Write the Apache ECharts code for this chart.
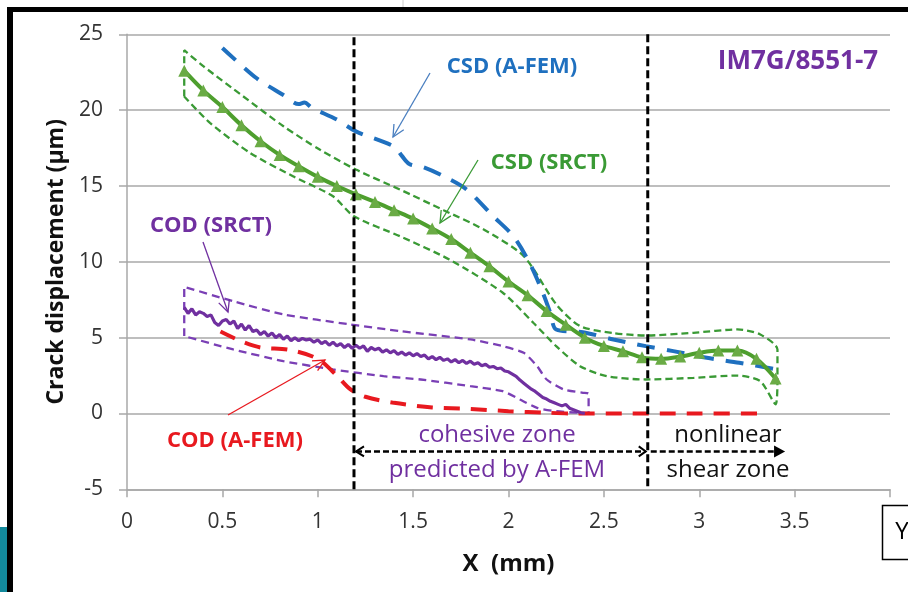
<!DOCTYPE html>
<html><head><meta charset="utf-8">
<script src="https://cdn.jsdelivr.net/npm/echarts@6/dist/echarts.min.js"></script>
<style>html,body{margin:0;padding:0;background:#fff;}#c{width:908px;height:592px;}</style>
</head><body><div id="c"></div>
<script>
// ---------- DATA ----------
const xTicks = [0, 0.5, 1, 1.5, 2, 2.5, 3, 3.5, 4];
const yTicks = [-5, 0, 5, 10, 15, 20, 25];

// CSD (SRCT) measured, with triangles
const csdSrctX = [0.3,0.4,0.5,0.6,0.7,0.8,0.9,1.0,1.1,1.2,1.3,1.4,1.5,1.6,1.7,1.8,1.9,2.0,2.1,2.2,2.3,2.4,2.5,2.6,2.7,2.8,2.9,3.0,3.1,3.2,3.3,3.4];
const csdSrctY = [22.6,21.3,20.2,19.0,17.95,17.05,16.3,15.6,15.0,14.45,13.95,13.4,12.85,12.2,11.5,10.6,9.7,8.7,7.8,6.75,5.85,5.0,4.45,4.1,3.7,3.6,3.75,4.0,4.15,4.15,3.6,2.3];

// CSD (SRCT) scatter envelope (closed outline)
const csdEnvX = [0.3,0.3,0.4,0.61,0.82,1.01,1.2,1.43,1.66,1.87,2.08,2.25,2.375,2.55,2.72,2.97,3.2,3.32,3.41,3.41,3.4,3.32,3.2,2.97,2.72,2.515,2.375,2.25,2.13,1.97,1.69,1.43,1.19,1.08,0.87,0.645,0.435,0.3];
const csdEnvY = [20.9,23.95,22.9,20.9,18.94,17.4,16.08,14.77,13.4,12.13,10.37,7.2,5.76,5.3,5.14,5.32,5.54,5.21,4.22,2.5,0.6,2.13,2.5,2.35,2.24,2.46,3.12,4.44,5.98,7.96,10.15,11.69,13.0,14.32,15.64,17.18,19.16,20.9];

// CSD (A-FEM)
const csdFemX = [0.5,0.68,0.82,0.9,0.93,0.97,1.1,1.2,1.4,1.44,1.48,1.55,1.66,1.78,1.92,2.025,2.11,2.18,2.22,2.25,2.39,2.55,2.72,2.864,3.04,3.21,3.41];
const csdFemY = [24.1,22.1,21.0,20.4,20.5,20.15,19.38,18.6,17.6,17.0,16.45,16.25,15.64,14.77,13.0,11.69,9.93,7.96,6.6,5.54,5.36,4.88,4.44,4.11,3.67,3.34,2.9];

// COD (A-FEM)
const codFemX = [0.49,0.6,0.7,0.85,1.0,1.1,1.17,1.25,1.4,1.6,1.8,2.0,2.2,2.35,2.6,2.8,3.0,3.32];
const codFemY = [5.4,4.75,4.35,4.2,3.6,2.5,1.6,1.1,0.7,0.4,0.3,0.15,0.05,0,0,0,0,0];

// COD (SRCT) measured (noisy)
const codSrctX = [0.30,0.32,0.34,0.36,0.38,0.40,0.42,0.44,0.46,0.48,0.50,0.52,0.54,0.56,0.58,0.60,0.62,0.64,0.66,0.68,0.70,0.72,0.74,0.76,0.78,0.80,0.82,0.84,0.86,0.88,0.90,0.92,0.94,0.96,0.98,1.00,1.02,1.04,1.06,1.08,1.10,1.12,1.14,1.16,1.18,1.20,1.22,1.24,1.26,1.28,1.30,1.32,1.34,1.36,1.38,1.40,1.42,1.44,1.46,1.48,1.50,1.52,1.54,1.56,1.58,1.60,1.62,1.64,1.66,1.68,1.70,1.72,1.74,1.76,1.78,1.80,1.82,1.84,1.86,1.88,1.90,1.92,1.94,1.96,1.98,2.00,2.02,2.04,2.06,2.08,2.10,2.12,2.14,2.16,2.18,2.20,2.22,2.24,2.26,2.28,2.30,2.32,2.34,2.36,2.38,2.40];
const codSrctY = [7.0,6.6,6.9,6.5,6.7,6.6,6.4,6.5,6.0,5.8,6.1,6.2,5.9,6.1,5.6,5.9,5.5,5.8,5.4,5.5,5.2,5.4,5.1,5.3,5.0,5.2,4.9,5.1,4.8,5.0,4.8,4.95,4.85,4.9,4.7,4.85,4.6,4.75,4.5,4.7,4.45,4.6,4.35,4.55,4.3,4.5,4.3,4.45,4.1,4.35,4.2,4.3,4.05,4.2,4.0,4.15,3.9,4.05,3.85,4.0,3.8,3.95,3.75,3.85,3.6,3.75,3.55,3.7,3.5,3.6,3.4,3.55,3.35,3.5,3.3,3.45,3.25,3.35,3.15,3.25,3.05,3.1,2.95,3.0,2.8,2.75,2.6,2.45,2.2,2.0,1.8,1.6,1.45,1.25,1.05,0.95,0.8,0.7,0.6,0.5,0.6,0.35,0.25,0.15,0.05,0.0];

// COD (SRCT) scatter envelope (closed outline)
const codEnvX = [0.3,0.3,0.557,0.82,1.17,1.43,1.8,1.97,2.08,2.15,2.2,2.29,2.39,2.42,2.42,2.39,2.25,2.15,2.06,1.97,1.8,1.54,1.345,1.08,0.82,0.557,0.3];
const codEnvY = [5.1,8.35,7.4,6.53,5.87,5.43,4.88,4.44,4.0,3.12,2.24,1.58,1.36,1.3,0.04,0.04,0.15,0.37,0.92,1.47,1.8,2.24,2.46,2.9,3.45,4.22,5.1];

// zone boundaries (mm) and top of boundary lines
const zoneBounds = [1.19, 2.73];
const zoneTop = [24.8, 25];
const zoneArrowY = -2.5;
const shearEnd = 3.45;

// ---------- CHART ----------
const zip = (a, b) => a.map((v, i) => [v, b[i]]);
const chart = echarts.init(document.getElementById('c'), null, {renderer: 'canvas'});
const FONT = '"Open Sans", sans-serif';
const GRID = {left: 127, right: 18, top: 34.3, bottom: 102.7};

const series = [
  {type: 'line', data: zip(csdEnvX, csdEnvY), symbol: 'none', smooth: 0.25,
   lineStyle: {color: '#3a9a35', width: 2.3, type: [7, 4]}, z: 2},
  {type: 'line', data: zip(codEnvX, codEnvY), symbol: 'none', smooth: 0.2,
   lineStyle: {color: '#7a3fb5', width: 2.3, type: [8, 5]}, z: 2},
  {type: 'line', data: zip(codFemX, codFemY), symbol: 'none', smooth: 0.3,
   lineStyle: {color: '#e8191f', width: 4, type: [16, 11]}, z: 3},
  {type: 'line', data: zip(codSrctX, codSrctY), symbol: 'none',
   lineStyle: {color: '#7030a0', width: 3.2}, z: 4},
  {type: 'line', data: zip(csdFemX, csdFemY), symbol: 'none', smooth: 0.3,
   lineStyle: {color: '#1f70bf', width: 4, type: [18, 12]}, z: 3},
  {type: 'line', data: zip(csdSrctX, csdSrctY), smooth: 0.3, symbol: 'triangle', symbolSize: 12,
   itemStyle: {color: '#6aab45'}, lineStyle: {color: '#4e9f2e', width: 4}, z: 5},
];
zoneBounds.forEach((b, i) => {
  series.push({type: 'line', data: [[b, zoneTop[i]], [b, -5]], symbol: 'none',
    lineStyle: {color: '#000', width: 3, type: [8, 4]}, z: 6});
});

chart.setOption({
  animation: false,
  grid: GRID,
  xAxis: {type: 'value', min: 0, max: 4, interval: 0.5,
    name: 'X  (mm)', nameLocation: 'middle', nameGap: 63,
    nameTextStyle: {fontFamily: FONT, fontWeight: 'bold', fontSize: 24, color: '#111'},
    axisLine: {show: true, onZero: false, lineStyle: {color: '#a8a8a8', width: 1.5}},
    axisTick: {show: true, length: 8, lineStyle: {color: '#a8a8a8', width: 1.5}},
    splitLine: {show: false},
    axisLabel: {fontFamily: FONT, fontSize: 21, color: '#333', margin: 22,
      formatter: v => (v === 4 ? '' : String(v))}},
  yAxis: {type: 'value', min: -5, max: 25, interval: 5,
    name: 'Crack displacement (μm)', nameLocation: 'middle', nameGap: 58,
    nameTextStyle: {fontFamily: FONT, fontWeight: 'bold', fontSize: 23, color: '#111'},
    axisLine: {show: true, lineStyle: {color: '#a8a8a8', width: 1.5}},
    axisTick: {show: true, length: 8, lineStyle: {color: '#a8a8a8', width: 1.5}},
    splitLine: {show: true, lineStyle: {color: '#a8a8a8', width: 1.5}},
    axisLabel: {fontFamily: FONT, fontSize: 21, color: '#333', margin: 24}},
  series: series
});

// ---------- ANNOTATIONS ----------
const P = (x, y) => chart.convertToPixel({gridIndex: 0}, [x, y]);
function openArrow(x1, y1, x2, y2, color, w) {
  const a = Math.atan2(y2 - y1, x2 - x1), L = 13, s = 0.45;
  return [
    {type: 'line', shape: {x1, y1, x2, y2}, style: {stroke: color, lineWidth: w}, z: 10},
    {type: 'polyline', shape: {points: [
      [x2 - L * Math.cos(a - s), y2 - L * Math.sin(a - s)], [x2, y2],
      [x2 - L * Math.cos(a + s), y2 - L * Math.sin(a + s)]]},
     style: {stroke: color, lineWidth: w, fill: null}, z: 10}
  ];
}
function txt(t, x, y, color, size, bold, z) {
  return {type: 'text', z: z || 10, style: {text: t, x, y, fill: color, textAlign: 'center', textVerticalAlign: 'middle',
    font: (bold ? 'bold ' : '') + size + 'px ' + FONT}};
}
const pL = P(zoneBounds[0], zoneArrowY), pM = P(zoneBounds[1], zoneArrowY), pR = P(shearEnd, zoneArrowY);
const g = [];
// frame of the original slide
g.push({type: 'rect', shape: {x: 7, y: 7, width: 6, height: 585}, style: {fill: '#000'}, z: 20});
g.push({type: 'rect', shape: {x: 7, y: 7, width: 901, height: 5}, style: {fill: '#000'}, z: 20});
g.push({type: 'rect', shape: {x: 0, y: 527, width: 7, height: 65}, style: {fill: '#138a9c'}, z: 20});
g.push({type: 'line', shape: {x1: 403, y1: 0, x2: 403, y2: 7}, style: {stroke: '#ccc', lineWidth: 1}, z: 20});
g.push({type: 'rect', shape: {x: 882.5, y: 505.5, width: 30, height: 54}, style: {fill: '#fff', stroke: '#000', lineWidth: 1.5}, z: 20});
g.push(txt('Y', 902, 532, '#000', 24, false, 21));
// zone arrows
g.push({type: 'line', shape: {x1: pL[0] + 2, y1: pL[1], x2: pM[0] - 2, y2: pM[1]}, style: {stroke: '#000', lineWidth: 2.5, lineDash: [6, 3]}, z: 9});
g.push({type: 'polyline', shape: {points: [[pL[0] + 10, pL[1] - 5], [pL[0] + 2, pL[1]], [pL[0] + 10, pL[1] + 5]]}, style: {stroke: '#000', lineWidth: 2, fill: null}, z: 9});
g.push({type: 'polyline', shape: {points: [[pM[0] - 9, pM[1] - 5], [pM[0] - 2, pM[1]], [pM[0] - 9, pM[1] + 5]]}, style: {stroke: '#000', lineWidth: 2, fill: null}, z: 9});
g.push({type: 'line', shape: {x1: pM[0] + 3, y1: pM[1], x2: pR[0] - 8, y2: pR[1]}, style: {stroke: '#000', lineWidth: 2.5, lineDash: [6, 3]}, z: 9});
g.push({type: 'polygon', shape: {points: [[pR[0] - 11, pR[1] - 6], [pR[0], pR[1]], [pR[0] - 11, pR[1] + 6]]}, style: {fill: '#000'}, z: 9});
// zone labels
g.push(txt('cohesive zone', 497, 435, '#7030a0', 24, false));
g.push(txt('predicted by A-FEM', 497, 470, '#7030a0', 24, false));
g.push(txt('nonlinear', 728, 435, '#111', 24, false));
g.push(txt('shear zone', 728, 470, '#111', 24, false));
// series labels
g.push(txt('CSD (A-FEM)', 512, 67, '#1f70bf', 22, true));
g.push(txt('IM7G/8551-7', 798, 62, '#7030a0', 26, true));
g.push(txt('CSD (SRCT)', 549, 163, '#3a9a35', 22, true));
g.push(txt('COD (SRCT)', 211, 226, '#7030a0', 22, true));
g.push(txt('COD (A-FEM)', 235, 441, '#e8191f', 22, true));
// pointer arrows
g.push(...openArrow(430, 73, 393, 137, '#4a7fc0', 1.3));
g.push(...openArrow(478, 160, 440, 223, '#3a9a35', 1.3));
g.push(...openArrow(203, 242, 228, 312, '#7030a0', 1.3));
g.push(...openArrow(228, 415, 325, 360, '#e8191f', 1.3));
chart.setOption({graphic: g});
</script></body></html>
